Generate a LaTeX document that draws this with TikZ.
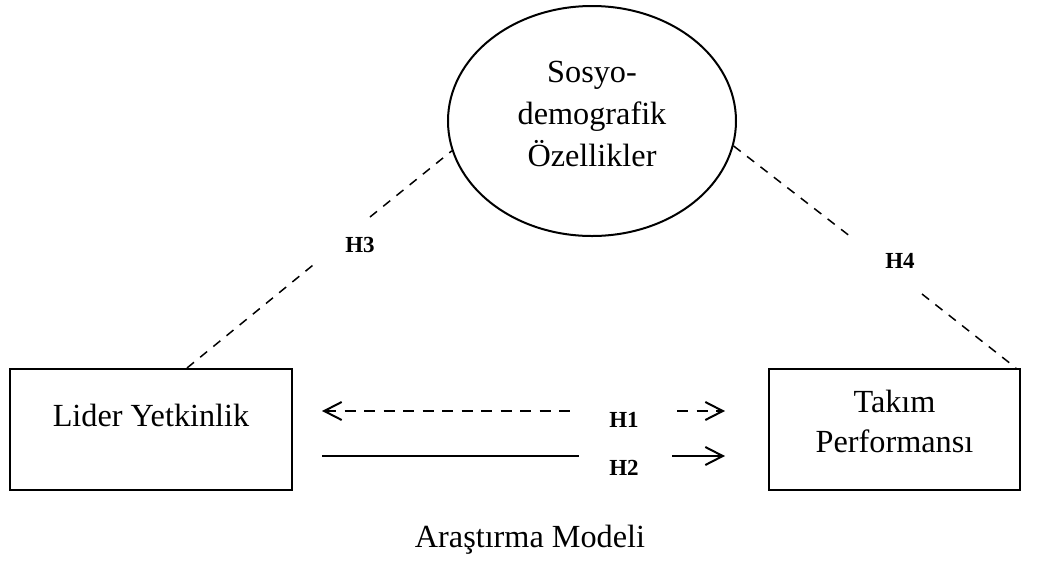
\documentclass[tikz,border=0pt]{standalone}
\usepackage{fontspec}
\setmainfont{Liberation Serif}
\usetikzlibrary{shapes.geometric,arrows.meta,calc}

\begin{document}
\begin{tikzpicture}[x=0.4pt,y=-0.4pt,
    >={Straight Barb[length=7pt,width=7.2pt]},
    box/.style={draw, line width=0.8pt, minimum height=48.4pt, inner sep=0pt,
        align=center, font=\fontsize{12.9}{16}\selectfont},
    soc/.style={ellipse, draw, line width=0.8pt, minimum width=115.2pt,
        minimum height=92pt, inner sep=0pt, align=center,
        font=\fontsize{12.9}{16.8}\selectfont},
    hyp/.style={inner sep=0pt, font=\fontsize{9.2}{10}\selectfont\bfseries},
    dashline/.style={line width=0.6pt, dash pattern=on 3.6pt off 3.2pt},
    dasharrow/.style={line width=0.8pt, dash pattern=on 4.4pt off 3.4pt},
    solidarrow/.style={line width=0.8pt}]
    \useasboundingbox (0,0) rectangle (1049,568);

    % Variables
    \node[box, minimum width=112.8pt, text depth=11.7pt] (lider) at (151,429.5) {Lider Yetkinlik};
    \node[box, minimum width=100.4pt, text depth=6.6pt] (takim) at (894.5,429.5) {Takım\\Performansı};
    \node[soc, text depth=6pt] (sosyo) at (592,121) {Sosyo-\\demografik\\Özellikler};

    % Hypotheses
    \node[hyp] (h1) at (624,420) {H1};
    \node[hyp] (h2) at (624,468) {H2};
    \node[hyp] (h3) at (360,245) {H3};
    \node[hyp] (h4) at (900,261) {H4};

    % H1 and H2 lines
    \coordinate (h1a) at (322,411);
    \coordinate (h1b) at (577,411);
    \coordinate (h1c) at (677,411);
    \coordinate (h1d) at (725,411);
    \draw[dasharrow, <-] (h1a) -- (h1b);
    \draw[dasharrow, ->] (h1c) -- (h1d);

    \coordinate (h2a) at (322,456);
    \coordinate (h2b) at (579,456);
    \coordinate (h2c) at (672,456);
    \coordinate (h2d) at (725,456);
    \draw[solidarrow] (h2a) -- (h2b);
    \draw[solidarrow, ->] (h2c) -- (h2d);

    % H3 and H4 lines
    \coordinate (h3a) at ($(lider.north west)+(178,0)$);
    \coordinate (h3b) at (318,261);
    \coordinate (h3c) at (370,217);
    \draw[dashline] (h3a) -- (h3b);
    \draw[dashline] (h3c) -- (sosyo.192);

    \coordinate (h4a) at (851,237);
    \coordinate (h4b) at (922,294);
    \coordinate (h4c) at ($(takim.north east)+(-5,0)$);
    \draw[dashline] (sosyo.-10) -- (h4a);
    \draw[dashline] (h4b) -- (h4c);

    % Caption
    \node[anchor=base, inner sep=0pt, font=\fontsize{12.9}{16}\selectfont] (title) at (530,547) {Araştırma Modeli};
\end{tikzpicture}
\end{document}
